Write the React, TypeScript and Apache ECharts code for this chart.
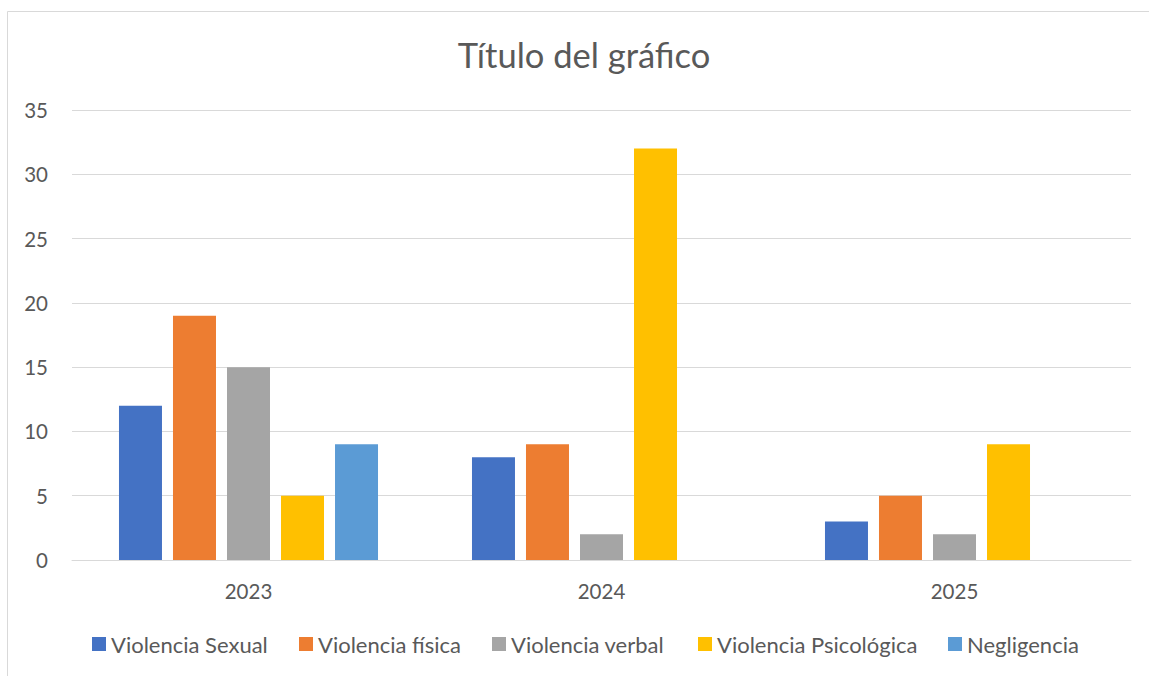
import React, { useEffect, useRef } from "react";
import * as echarts from "echarts";

const categories = ["2023", "2024", "2025"];
const seriesNames = [
  "Violencia Sexual",
  "Violencia física",
  "Violencia verbal",
  "Violencia Psicológica",
  "Negligencia",
];
const violenciaSexual = [12, 8, 3];
const violenciaFisica = [19, 9, 5];
const violenciaVerbal = [15, 2, 2];
const violenciaPsicologica = [5, 32, 9];
const negligencia = [9, null, null];
const seriesColors = ["#4472C4", "#ED7D31", "#A5A5A5", "#FFC000", "#5B9BD5"];
const legendLefts = [92, 299, 492, 698, 948];

const FONT = "Lato";
const TEXT = "#595959";
const LINE = "#d9d9d9";

export default function App() {
  const ref = useRef<HTMLDivElement>(null);
  useEffect(() => {
    if (!ref.current) return;
    const chart = echarts.init(ref.current, undefined, { renderer: "svg" });
    const values = [violenciaSexual, violenciaFisica, violenciaVerbal, violenciaPsicologica, negligencia];
    chart.setOption({
      animation: false,
      backgroundColor: "#ffffff",
      textStyle: { fontFamily: FONT },
      title: {
        text: "Título del gráfico",
        left: 579,
        top: 32,
        textAlign: "center",
        textStyle: { fontFamily: FONT, fontSize: 34.5, fontWeight: "normal", color: TEXT },
      },
      legend: seriesNames.map((name, i) => ({
        data: [name],
        left: legendLefts[i],
        top: 633,
        padding: 0,
        itemWidth: 14,
        itemHeight: 14,
        icon: "rect",
        selectedMode: false,
        textStyle: { fontFamily: FONT, fontSize: 22, color: TEXT, padding: [0, 0, 0, 0] },
      })),
      grid: { left: 72, right: 18, top: 110, bottom: 116, containLabel: false },
      xAxis: {
        type: "category",
        data: categories,
        axisLine: { show: true, lineStyle: { color: LINE, width: 1 } },
        axisTick: { show: false },
        axisLabel: { fontFamily: FONT, fontSize: 20.5, color: TEXT, margin: 20 },
      },
      yAxis: {
        type: "value",
        min: 0,
        max: 35,
        interval: 5,
        axisLine: { show: false },
        axisTick: { show: false },
        splitLine: { lineStyle: { color: LINE, width: 1 } },
        axisLabel: { fontFamily: FONT, fontSize: 20.5, color: TEXT, margin: 24 },
      },
      graphic: [
        {
          type: "rect",
          shape: { x: 7.5, y: 11.5, width: 2000, height: 1000 },
          style: { fill: "none", stroke: LINE, lineWidth: 1 },
          silent: true,
          z: -10,
        },
      ],
      series: seriesNames.map((name, i) => ({
        name,
        type: "bar",
        data: values[i],
        barWidth: 43,
        barGap: "25.6%",
        itemStyle: { color: seriesColors[i] },
      })),
    });
    return () => chart.dispose();
  }, []);
  return (
    <div
      ref={ref}
      style={{ position: "absolute", left: 0, top: 0, width: 1149, height: 676, background: "#fff" }}
    />
  );
}
